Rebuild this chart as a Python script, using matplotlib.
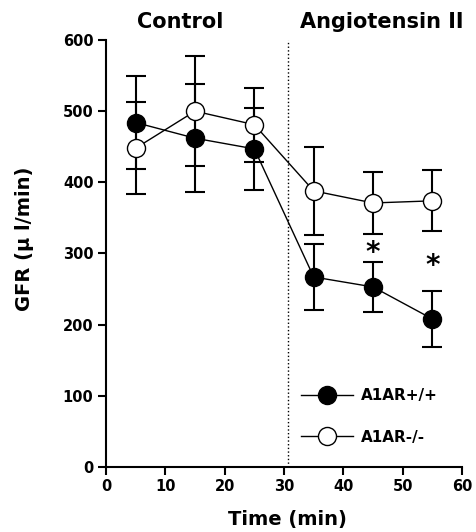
import matplotlib.pyplot as plt
from matplotlib.lines import Line2D
import numpy as np

time = [5, 15, 25, 35, 45, 55]
wt_mean = [484, 462, 447, 267, 253, 208]
wt_err = [65, 76, 58, 46, 35, 39]
ko_mean = [448, 500, 481, 388, 371, 374]
ko_err = [65, 77, 52, 62, 44, 43]
star_x = [45, 55]
star_y = [300, 282]

fig = plt.figure(figsize=(4.76, 5.32), dpi=100)
ax = fig.add_axes([0.2227, 0.1222, 0.748, 0.8026])

ax.errorbar(time, wt_mean, yerr=wt_err, fmt='-o', color='black', mfc='black',
            mec='black', ms=13, lw=1, elinewidth=1.5, capsize=7.5, capthick=1.5,
            zorder=3)
ax.errorbar(time, ko_mean, yerr=ko_err, fmt='-o', color='black', mfc='white',
            mec='black', ms=13, lw=1, elinewidth=1.5, capsize=7.5, capthick=1.5,
            zorder=4)

for x, y in zip(star_x, star_y):
    ax.text(x, y, '*', ha='center', va='center', fontsize=20, fontweight='bold')

ax.plot([30.7, 30.7], [0, 600], ':', color='black', lw=1)

ax.set_xlim(0, 60)
ax.set_ylim(0, 600)
ax.set_xticks(np.arange(0, 61, 10))
ax.set_yticks(np.arange(0, 601, 100))
ax.spines['top'].set_visible(False)
ax.spines['right'].set_visible(False)
ax.spines['left'].set_linewidth(1.5)
ax.spines['bottom'].set_linewidth(1.5)
ax.tick_params(direction='out', length=6, width=1.5, labelsize=10.5, pad=3)
for lab in ax.get_xticklabels() + ax.get_yticklabels():
    lab.set_fontweight('bold')

ax.set_xlabel('Time (min)', fontsize=14, fontweight='bold')
ax.set_ylabel('GFR (\u03bc l/min)', fontsize=14, fontweight='bold')
ax.xaxis.set_label_coords(0.51, -0.124)
ax.yaxis.set_label_coords(-0.23, 0.534)
ax.xaxis.label.set_va('center')
ax.yaxis.label.set_va('center')

fig.text(180 / 476, 1 - 22 / 532, 'Control', ha='center', va='center',
         fontsize=15, fontweight='bold')
fig.text(382 / 476, 1 - 22 / 532, 'Angiotensin II', ha='center', va='center',
         fontsize=15, fontweight='bold')

handles = [
    Line2D([], [], color='black', lw=1, marker='o', ms=13, mfc='black', mec='black'),
    Line2D([], [], color='black', lw=1, marker='o', ms=13, mfc='white', mec='black'),
]
ax.legend(handles, ['A1AR+/+', 'A1AR-/-'], loc='lower left',
          bbox_to_anchor=(0.51, 0.02), frameon=False, handlelength=3.4,
          handletextpad=0.5, labelspacing=1.75,
          prop={'weight': 'bold', 'size': 11})

fig.savefig('out.png', dpi=100)
